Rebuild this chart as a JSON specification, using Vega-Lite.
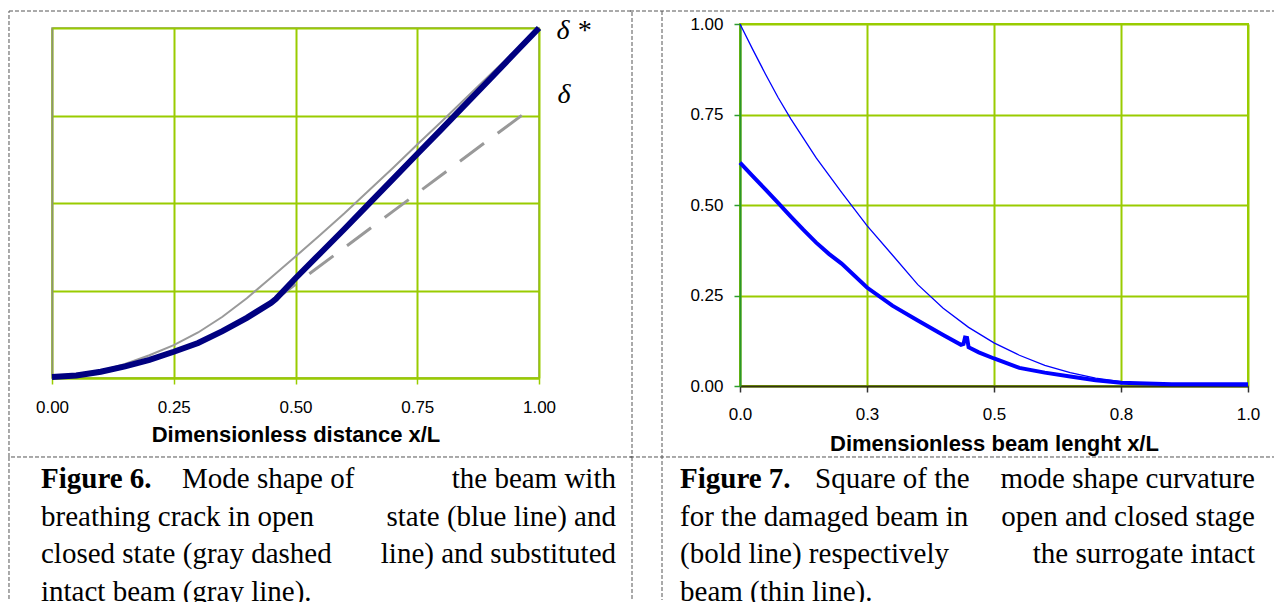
{
  "$schema": "https://vega.github.io/schema/vega-lite/v6.json",
  "padding": {"left": 7, "top": 8, "right": 0, "bottom": 0},
  "background": "#ffffff",
  "spacing": -6,
  "config": {"view": {"stroke": null}, "font": "Liberation Sans"},
  "datasets": {
    "fig6": [
      {"series": "open", "x": 0, "y": 0.003}, {"series": "open", "x": 0.05, "y": 0.007}, {"series": "open", "x": 0.1, "y": 0.018},
      {"series": "open", "x": 0.15, "y": 0.033}, {"series": "open", "x": 0.2, "y": 0.052}, {"series": "open", "x": 0.25, "y": 0.075},
      {"series": "open", "x": 0.3, "y": 0.1}, {"series": "open", "x": 0.35, "y": 0.134}, {"series": "open", "x": 0.4, "y": 0.172},
      {"series": "open", "x": 0.45, "y": 0.215}, {"series": "open", "x": 0.46, "y": 0.226}, {"series": "open", "x": 0.5, "y": 0.285},
      {"series": "open", "x": 0.55, "y": 0.355}, {"series": "open", "x": 0.6, "y": 0.425}, {"series": "open", "x": 0.65, "y": 0.497},
      {"series": "open", "x": 0.7, "y": 0.568}, {"series": "open", "x": 0.75, "y": 0.64}, {"series": "open", "x": 0.8, "y": 0.711},
      {"series": "open", "x": 0.85, "y": 0.783}, {"series": "open", "x": 0.9, "y": 0.855}, {"series": "open", "x": 0.95, "y": 0.928},
      {"series": "open", "x": 1.0, "y": 1.0},
      {"series": "intact", "x": 0, "y": 0.0}, {"series": "intact", "x": 0.05, "y": 0.006}, {"series": "intact", "x": 0.1, "y": 0.02},
      {"series": "intact", "x": 0.15, "y": 0.04}, {"series": "intact", "x": 0.2, "y": 0.065}, {"series": "intact", "x": 0.25, "y": 0.094},
      {"series": "intact", "x": 0.3, "y": 0.13}, {"series": "intact", "x": 0.35, "y": 0.175}, {"series": "intact", "x": 0.4, "y": 0.228},
      {"series": "intact", "x": 0.45, "y": 0.287}, {"series": "intact", "x": 0.5, "y": 0.347}, {"series": "intact", "x": 0.55, "y": 0.408},
      {"series": "intact", "x": 0.6, "y": 0.47}, {"series": "intact", "x": 0.65, "y": 0.535}, {"series": "intact", "x": 0.7, "y": 0.6},
      {"series": "intact", "x": 0.75, "y": 0.667}, {"series": "intact", "x": 0.8, "y": 0.733}, {"series": "intact", "x": 0.85, "y": 0.8},
      {"series": "intact", "x": 0.9, "y": 0.867}, {"series": "intact", "x": 0.95, "y": 0.933}, {"series": "intact", "x": 1.0, "y": 1.0},
      {"series": "closed", "x": 0, "y": 0.003}, {"series": "closed", "x": 0.1, "y": 0.018}, {"series": "closed", "x": 0.2, "y": 0.052},
      {"series": "closed", "x": 0.3, "y": 0.1}, {"series": "closed", "x": 0.4, "y": 0.172}, {"series": "closed", "x": 0.46, "y": 0.226},
      {"series": "closed", "x": 0.5, "y": 0.268}, {"series": "closed", "x": 0.6, "y": 0.372}, {"series": "closed", "x": 0.7, "y": 0.476},
      {"series": "closed", "x": 0.8, "y": 0.58}, {"series": "closed", "x": 0.9, "y": 0.684}, {"series": "closed", "x": 0.971, "y": 0.757}
    ],
    "fig7": [
      {"series": "intact", "x": 0, "y": 1.0}, {"series": "intact", "x": 0.025, "y": 0.93}, {"series": "intact", "x": 0.05, "y": 0.862},
      {"series": "intact", "x": 0.075, "y": 0.797}, {"series": "intact", "x": 0.1, "y": 0.738}, {"series": "intact", "x": 0.15, "y": 0.63},
      {"series": "intact", "x": 0.2, "y": 0.535}, {"series": "intact", "x": 0.25, "y": 0.443}, {"series": "intact", "x": 0.3, "y": 0.362},
      {"series": "intact", "x": 0.35, "y": 0.28}, {"series": "intact", "x": 0.4, "y": 0.215}, {"series": "intact", "x": 0.45, "y": 0.162},
      {"series": "intact", "x": 0.5, "y": 0.119}, {"series": "intact", "x": 0.55, "y": 0.085}, {"series": "intact", "x": 0.6, "y": 0.057},
      {"series": "intact", "x": 0.65, "y": 0.037}, {"series": "intact", "x": 0.7, "y": 0.022}, {"series": "intact", "x": 0.75, "y": 0.012},
      {"series": "intact", "x": 0.8, "y": 0.006}, {"series": "intact", "x": 0.85, "y": 0.003}, {"series": "intact", "x": 0.9, "y": 0.0015},
      {"series": "intact", "x": 0.95, "y": 0.0008}, {"series": "intact", "x": 1.0, "y": 0.0005},
      {"series": "damaged", "x": 0, "y": 0.617}, {"series": "damaged", "x": 0.025, "y": 0.58}, {"series": "damaged", "x": 0.05, "y": 0.543},
      {"series": "damaged", "x": 0.075, "y": 0.506}, {"series": "damaged", "x": 0.1, "y": 0.468}, {"series": "damaged", "x": 0.125, "y": 0.431},
      {"series": "damaged", "x": 0.15, "y": 0.396}, {"series": "damaged", "x": 0.175, "y": 0.365}, {"series": "damaged", "x": 0.2, "y": 0.338},
      {"series": "damaged", "x": 0.25, "y": 0.272}, {"series": "damaged", "x": 0.3, "y": 0.222}, {"series": "damaged", "x": 0.35, "y": 0.181},
      {"series": "damaged", "x": 0.4, "y": 0.141}, {"series": "damaged", "x": 0.435, "y": 0.114}, {"series": "damaged", "x": 0.44, "y": 0.116},
      {"series": "damaged", "x": 0.443, "y": 0.134}, {"series": "damaged", "x": 0.447, "y": 0.133}, {"series": "damaged", "x": 0.45, "y": 0.107},
      {"series": "damaged", "x": 0.47, "y": 0.093}, {"series": "damaged", "x": 0.5, "y": 0.076}, {"series": "damaged", "x": 0.55, "y": 0.05},
      {"series": "damaged", "x": 0.6, "y": 0.037}, {"series": "damaged", "x": 0.65, "y": 0.026}, {"series": "damaged", "x": 0.7, "y": 0.016},
      {"series": "damaged", "x": 0.75, "y": 0.009}, {"series": "damaged", "x": 0.8, "y": 0.007}, {"series": "damaged", "x": 0.85, "y": 0.005},
      {"series": "damaged", "x": 0.9, "y": 0.005}, {"series": "damaged", "x": 0.95, "y": 0.005}, {"series": "damaged", "x": 1.0, "y": 0.005}
    ],
    "cap6": [
      {"line": 1, "part": "head", "text": "Figure 6."},
      {"line": 1, "part": "mid", "text": "Mode shape of"},
      {"line": 1, "part": "right", "text": "the beam with"},
      {"line": 2, "part": "left", "text": "breathing crack in open"},
      {"line": 2, "part": "right", "text": "state (blue line) and"},
      {"line": 3, "part": "left", "text": "closed state (gray dashed"},
      {"line": 3, "part": "right", "text": "line) and substituted"},
      {"line": 4, "part": "left", "text": "intact beam (gray line)."}
    ],
    "cap7": [
      {"line": 1, "part": "head", "text": "Figure 7."},
      {"line": 1, "part": "mid", "text": "Square of the"},
      {"line": 1, "part": "right", "text": "mode shape curvature"},
      {"line": 2, "part": "left", "text": "for the damaged beam in"},
      {"line": 2, "part": "right", "text": "open and closed stage"},
      {"line": 3, "part": "left", "text": "(bold line) respectively"},
      {"line": 3, "part": "right", "text": "the surrogate intact"},
      {"line": 4, "part": "left", "text": "beam (thin line)."}
    ]
  },
  "hconcat": [
    {
      "spacing": 0,
      "vconcat": [
        {"width": 1, "height": 1, "data": {"values": []}, "mark": "point", "encoding": {}},
        {
          "width": 487,
          "height": 350,
          "view": {"stroke": "#8c9272", "strokeWidth": 1.5},
          "resolve": {"scale": {"y": "independent"}},
          "layer": [
            {
              "layer": [
                {
                  "data": {"values": [{}]},
                  "mark": {"type": "rect", "fill": "#ffffff", "fillOpacity": 0, "stroke": "#555555", "strokeWidth": 1, "strokeDash": [4, 2], "clip": false},
                  "encoding": {
                    "x": {"datum": -0.0883, "type": "quantitative", "scale": {"domain": [0, 1], "nice": false, "zero": false}},
                    "x2": {"datum": 1.19097},
                    "y": {"datum": 1.04857, "type": "quantitative", "scale": {"domain": [0, 1], "nice": false, "zero": false}},
                    "y2": {"datum": -0.22571}
                  }
                },
                {
                  "data": {"values": [{}]},
                  "mark": {"type": "rule", "stroke": "#555555", "strokeWidth": 1, "strokeDash": [4, 2], "clip": false},
                  "encoding": {
                    "x": {"datum": -0.0883, "type": "quantitative", "scale": {"domain": [0, 1], "nice": false, "zero": false}},
                    "y": {"datum": -0.22571, "type": "quantitative", "scale": {"domain": [0, 1], "nice": false, "zero": false}},
                    "y2": {"datum": -0.6343}
                  }
                },
                {
                  "data": {"values": [{}]},
                  "mark": {"type": "rule", "stroke": "#555555", "strokeWidth": 1, "strokeDash": [4, 2], "clip": false},
                  "encoding": {
                    "x": {"datum": 1.19097, "type": "quantitative", "scale": {"domain": [0, 1], "nice": false, "zero": false}},
                    "y": {"datum": -0.22571, "type": "quantitative", "scale": {"domain": [0, 1], "nice": false, "zero": false}},
                    "y2": {"datum": -0.6343}
                  }
                },
                {
                  "data": {"name": "fig6"},
                  "transform": [{"filter": "datum.series == 'closed'"}],
                  "mark": {"type": "line", "color": "#999999", "strokeWidth": 3, "strokeDash": [30, 17]},
                  "encoding": {
                    "x": {"field": "x", "type": "quantitative", "scale": {"domain": [0, 1], "nice": false, "zero": false}},
                    "y": {"field": "y", "type": "quantitative", "scale": {"domain": [0, 1], "nice": false, "zero": false}}
                  }
                },
                {
                  "data": {"name": "fig6"},
                  "transform": [{"filter": "datum.series == 'intact'"}],
                  "mark": {"type": "line", "color": "#9a9a9a", "strokeWidth": 2},
                  "encoding": {
                    "x": {"field": "x", "type": "quantitative", "scale": {"domain": [0, 1], "nice": false, "zero": false}},
                    "y": {"field": "y", "type": "quantitative", "scale": {"domain": [0, 1], "nice": false, "zero": false}}
                  }
                },
                {
                  "data": {"name": "fig6"},
                  "transform": [{"filter": "datum.series == 'open'"}],
                  "mark": {"type": "line", "color": "#000080", "strokeWidth": 6},
                  "encoding": {
                    "x": {
                      "field": "x", "type": "quantitative",
                      "scale": {"domain": [0, 1], "nice": false, "zero": false},
                      "axis": {
                        "values": [0, 0.25, 0.5, 0.75, 1], "format": ".2f",
                        "labelFont": "Liberation Sans", "labelFontSize": 17, "labelColor": "#000000",
                        "labelPadding": 15, "labelFlush": false, "labelOverlap": false, "labelBound": false,
                        "tickSize": 6, "tickColor": "#99cc00", "tickWidth": 1.5,
                        "domainColor": "#99cc00", "domainWidth": 2,
                        "grid": true, "gridColor": "#99cc00", "gridWidth": 2,
                        "title": "Dimensionless distance x/L", "titleFont": "Liberation Sans", "titleFontSize": 22,
                        "titleFontWeight": "bold", "titleColor": "#000000", "titlePadding": 9
                      }
                    },
                    "y": {
                      "field": "y", "type": "quantitative",
                      "scale": {"domain": [0, 1], "nice": false, "zero": false},
                      "axis": {
                        "values": [0, 0.25, 0.5, 0.75, 1], "labels": false, "ticks": false,
                        "domainColor": "#8c9272", "domainWidth": 1.5,
                        "grid": true, "gridColor": "#99cc00", "gridWidth": 2, "title": null
                      }
                    }
                  }
                },
                {
                  "data": {"values": [{}]},
                  "mark": {"type": "text", "text": "δ *", "font": "Liberation Serif", "fontStyle": "italic", "fontSize": 28, "align": "left", "baseline": "middle", "color": "#000000", "clip": false},
                  "encoding": {
                    "x": {"datum": 1.036, "type": "quantitative", "scale": {"domain": [0, 1], "nice": false, "zero": false}},
                    "y": {"datum": 0.991, "type": "quantitative", "scale": {"domain": [0, 1], "nice": false, "zero": false}}
                  }
                },
                {
                  "data": {"values": [{}]},
                  "mark": {"type": "text", "text": "δ", "font": "Liberation Serif", "fontStyle": "italic", "fontSize": 28, "align": "left", "baseline": "middle", "color": "#000000", "clip": false},
                  "encoding": {
                    "x": {"datum": 1.038, "type": "quantitative", "scale": {"domain": [0, 1], "nice": false, "zero": false}},
                    "y": {"datum": 0.809, "type": "quantitative", "scale": {"domain": [0, 1], "nice": false, "zero": false}}
                  }
                }
              ]
            },
            {
              "data": {"name": "cap6"},
              "layer": [
                {
                  "transform": [{"filter": "datum.part == 'head'"}],
                  "mark": {"type": "text", "font": "Liberation Serif", "fontSize": 29, "fontWeight": "bold", "align": "left", "baseline": "alphabetic", "color": "#000000", "clip": false},
                  "encoding": {
                    "x": {"datum": -0.0226, "type": "quantitative", "scale": {"domain": [0, 1], "nice": false, "zero": false}},
                    "y": {"field": "line", "type": "quantitative", "scale": {"domain": [-11.202, -1.918], "reverse": true, "nice": false, "zero": false}, "axis": null},
                    "text": {"field": "text"}
                  }
                },
                {
                  "transform": [{"filter": "datum.part == 'mid'"}],
                  "mark": {"type": "text", "font": "Liberation Serif", "fontSize": 29, "align": "left", "baseline": "alphabetic", "dx": 141, "color": "#000000", "clip": false},
                  "encoding": {
                    "x": {"datum": -0.0226, "type": "quantitative", "scale": {"domain": [0, 1], "nice": false, "zero": false}},
                    "y": {"field": "line", "type": "quantitative", "scale": {"domain": [-11.202, -1.918], "reverse": true, "nice": false, "zero": false}, "axis": null},
                    "text": {"field": "text"}
                  }
                },
                {
                  "transform": [{"filter": "datum.part == 'left'"}],
                  "mark": {"type": "text", "font": "Liberation Serif", "fontSize": 29, "align": "left", "baseline": "alphabetic", "color": "#000000", "clip": false},
                  "encoding": {
                    "x": {"datum": -0.0226, "type": "quantitative", "scale": {"domain": [0, 1], "nice": false, "zero": false}},
                    "y": {"field": "line", "type": "quantitative", "scale": {"domain": [-11.202, -1.918], "reverse": true, "nice": false, "zero": false}, "axis": null},
                    "text": {"field": "text"}
                  }
                },
                {
                  "transform": [{"filter": "datum.part == 'right'"}],
                  "mark": {"type": "text", "font": "Liberation Serif", "fontSize": 29, "align": "right", "baseline": "alphabetic", "color": "#000000", "clip": false},
                  "encoding": {
                    "x": {"datum": 1.15811, "type": "quantitative", "scale": {"domain": [0, 1], "nice": false, "zero": false}},
                    "y": {"field": "line", "type": "quantitative", "scale": {"domain": [-11.202, -1.918], "reverse": true, "nice": false, "zero": false}, "axis": null},
                    "text": {"field": "text"}
                  }
                }
              ]
            }
          ]
        }
      ]
    },
    {
      "spacing": 0,
      "vconcat": [
        {"width": 1, "height": 1, "data": {"values": []}, "mark": "point", "encoding": {}},
        {
          "width": 508,
          "height": 362,
          "view": {"stroke": "#99cc00", "strokeWidth": 2},
          "resolve": {"scale": {"y": "independent"}},
          "layer": [
            {
              "layer": [
                {
                  "data": {"values": [{}]},
                  "mark": {"type": "rule", "stroke": "#555555", "strokeWidth": 1, "strokeDash": [4, 2], "clip": false},
                  "encoding": {
                    "x": {"datum": -0.21654, "type": "quantitative", "scale": {"domain": [0, 1], "nice": false, "zero": false}},
                    "x2": {"datum": 1.05118},
                    "y": {"datum": 1.03591, "type": "quantitative", "scale": {"domain": [0, 1], "nice": false, "zero": false}}
                  }
                },
                {
                  "data": {"values": [{}]},
                  "mark": {"type": "rule", "stroke": "#555555", "strokeWidth": 1, "strokeDash": [4, 2], "clip": false},
                  "encoding": {
                    "x": {"datum": -0.21654, "type": "quantitative", "scale": {"domain": [0, 1], "nice": false, "zero": false}},
                    "x2": {"datum": 1.05118},
                    "y": {"datum": -0.19613, "type": "quantitative", "scale": {"domain": [0, 1], "nice": false, "zero": false}}
                  }
                },
                {
                  "data": {"values": [{}]},
                  "mark": {"type": "rule", "stroke": "#555555", "strokeWidth": 1, "strokeDash": [4, 2], "clip": false},
                  "encoding": {
                    "x": {"datum": -0.15354, "type": "quantitative", "scale": {"domain": [0, 1], "nice": false, "zero": false}},
                    "y": {"datum": 1.03591, "type": "quantitative", "scale": {"domain": [0, 1], "nice": false, "zero": false}},
                    "y2": {"datum": -0.59116}
                  }
                },
                {
                  "data": {"name": "fig7"},
                  "transform": [{"filter": "datum.series == 'intact'"}],
                  "mark": {"type": "line", "color": "#0000ff", "strokeWidth": 1.3},
                  "encoding": {
                    "x": {
                      "field": "x", "type": "quantitative",
                      "scale": {"domain": [0, 1], "nice": false, "zero": false},
                      "axis": {
                        "values": [0, 0.25, 0.5, 0.75, 1], "format": ".1f",
                        "labelFont": "Liberation Sans", "labelFontSize": 17, "labelColor": "#000000",
                        "labelPadding": 14, "labelFlush": false, "labelOverlap": false, "labelBound": false,
                        "tickSize": 6, "tickColor": "#333333", "tickWidth": 1.5,
                        "domainColor": "#333311", "domainWidth": 2,
                        "grid": true, "gridColor": "#99cc00", "gridWidth": 2,
                        "title": "Dimensionless beam lenght x/L", "titleFont": "Liberation Sans", "titleFontSize": 22,
                        "titleFontWeight": "bold", "titleColor": "#000000", "titlePadding": 11
                      }
                    },
                    "y": {
                      "field": "y", "type": "quantitative",
                      "scale": {"domain": [0, 1], "nice": false, "zero": false},
                      "axis": {
                        "values": [0, 0.25, 0.5, 0.75, 1], "format": ".2f",
                        "labelFont": "Liberation Sans", "labelFontSize": 17, "labelColor": "#000000",
                        "labelPadding": 11, "labelOverlap": false, "labelBound": false, "labelFlush": false,
                        "tickSize": 6, "tickColor": "#2e9e2e", "tickWidth": 1.5,
                        "domainColor": "#2a962a", "domainWidth": 2,
                        "grid": true, "gridColor": "#99cc00", "gridWidth": 2, "title": null
                      }
                    }
                  }
                },
                {
                  "data": {"name": "fig7"},
                  "transform": [{"filter": "datum.series == 'damaged'"}],
                  "mark": {"type": "line", "color": "#0000ff", "strokeWidth": 4},
                  "encoding": {
                    "x": {"field": "x", "type": "quantitative", "scale": {"domain": [0, 1], "nice": false, "zero": false}},
                    "y": {"field": "y", "type": "quantitative", "scale": {"domain": [0, 1], "nice": false, "zero": false}}
                  }
                }
              ]
            },
            {
              "data": {"name": "cap7"},
              "layer": [
                {
                  "transform": [{"filter": "datum.part == 'head'"}],
                  "mark": {"type": "text", "font": "Liberation Serif", "fontSize": 29, "fontWeight": "bold", "align": "left", "baseline": "alphabetic", "color": "#000000", "clip": false},
                  "encoding": {
                    "x": {"datum": -0.1181, "type": "quantitative", "scale": {"domain": [0, 1], "nice": false, "zero": false}},
                    "y": {"field": "line", "type": "quantitative", "scale": {"domain": [-11.308, -1.706], "reverse": true, "nice": false, "zero": false}, "axis": null},
                    "text": {"field": "text"}
                  }
                },
                {
                  "transform": [{"filter": "datum.part == 'mid'"}],
                  "mark": {"type": "text", "font": "Liberation Serif", "fontSize": 29, "align": "left", "baseline": "alphabetic", "dx": 135, "color": "#000000", "clip": false},
                  "encoding": {
                    "x": {"datum": -0.1181, "type": "quantitative", "scale": {"domain": [0, 1], "nice": false, "zero": false}},
                    "y": {"field": "line", "type": "quantitative", "scale": {"domain": [-11.308, -1.706], "reverse": true, "nice": false, "zero": false}, "axis": null},
                    "text": {"field": "text"}
                  }
                },
                {
                  "transform": [{"filter": "datum.part == 'left'"}],
                  "mark": {"type": "text", "font": "Liberation Serif", "fontSize": 29, "align": "left", "baseline": "alphabetic", "color": "#000000", "clip": false},
                  "encoding": {
                    "x": {"datum": -0.1181, "type": "quantitative", "scale": {"domain": [0, 1], "nice": false, "zero": false}},
                    "y": {"field": "line", "type": "quantitative", "scale": {"domain": [-11.308, -1.706], "reverse": true, "nice": false, "zero": false}, "axis": null},
                    "text": {"field": "text"}
                  }
                },
                {
                  "transform": [{"filter": "datum.part == 'right'"}],
                  "mark": {"type": "text", "font": "Liberation Serif", "fontSize": 29, "align": "right", "baseline": "alphabetic", "color": "#000000", "clip": false},
                  "encoding": {
                    "x": {"datum": 1.01378, "type": "quantitative", "scale": {"domain": [0, 1], "nice": false, "zero": false}},
                    "y": {"field": "line", "type": "quantitative", "scale": {"domain": [-11.308, -1.706], "reverse": true, "nice": false, "zero": false}, "axis": null},
                    "text": {"field": "text"}
                  }
                }
              ]
            }
          ]
        }
      ]
    }
  ]
}
